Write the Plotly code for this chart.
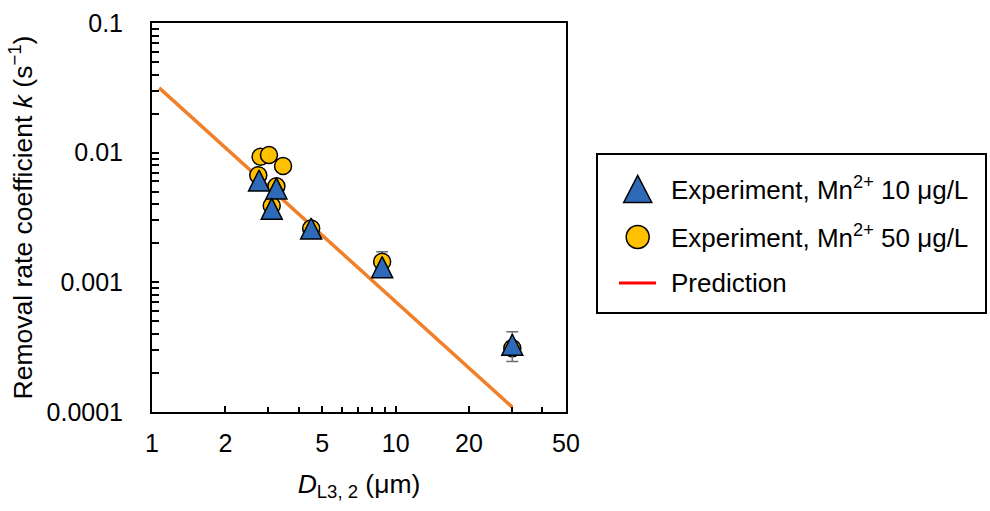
import plotly.graph_objects as go

# Measured removal rate coefficients k (1/s) versus droplet diameter D_L3,2 (um)
d_mn10 = [2.75, 3.24, 3.10, 4.5, 8.8, 30.1]
k_mn10 = [0.0061, 0.0053, 0.0037, 0.0026, 0.00131, 0.00033]
err_mn10 = [0, 0, 0, 0, 0, 0.000085]

d_mn50 = [2.79, 3.02, 3.45, 2.73, 3.24, 3.10, 4.5, 8.8, 30.1]
k_mn50 = [0.0093, 0.0096, 0.0079, 0.0067, 0.0055, 0.0039, 0.0026, 0.00144, 0.00031]
err_mn50 = [0, 0, 0, 0, 0, 0, 0, 0.00028, 0]

# Model prediction (straight line on log-log axes)
d_pred = [1.07, 30.1]
k_pred = [0.0316, 0.000109]

x_tickvals = [1, 2, 5, 10, 20, 50]
x_ticktext = ["1", "2", "5", "10", "20", "50"]
x_minor = [3, 4, 6, 7, 8, 9, 30, 40]

y_tickvals = [0.0001, 0.001, 0.01, 0.1]
y_ticktext = ["0.0001", "0.001", "0.01", "0.1"]
y_minor = [m * 10.0 ** e for e in (-4, -3, -2) for m in range(2, 10)]

legend_labels = [
    "Experiment, Mn<sup>2+</sup> 10 μg/L",
    "Experiment, Mn<sup>2+</sup> 50 μg/L",
    "Prediction",
]

W, H = 990, 511
FONT = "Arial, Liberation Sans, sans-serif"
BLUE = "#2F6AB8"
GOLD = "#FFC000"
ORANGE = "#F0802A"
RED = "#FF0000"
TRI = 21


def px(x):
    return x / W


def py(y):
    return 1 - y / H


fig = go.Figure()

fig.add_trace(go.Scatter(
    x=d_pred, y=k_pred, mode="lines", name=legend_labels[2],
    line=dict(color=ORANGE, width=3.5), hoverinfo="skip",
))

fig.add_trace(go.Scatter(
    x=d_mn50, y=k_mn50, mode="markers", name=legend_labels[1],
    marker=dict(symbol="circle", size=17, color=GOLD,
                line=dict(color="black", width=1.5)),
    error_y=dict(type="data", array=err_mn50, color="#6E6E6E",
                 thickness=1.5, width=6),
))

# upright triangle centred on the point: a flipped arrow pushed back by half its size
fig.add_trace(go.Scatter(
    x=d_mn10, y=k_mn10, mode="markers", name=legend_labels[0],
    marker=dict(symbol="arrow-down", angle=180, standoff=TRI / 2, size=TRI,
                color=BLUE, line=dict(color="black", width=1.5)),
    error_y=dict(type="data", array=err_mn10, color="#6E6E6E",
                 thickness=1.5, width=6),
))

axis_common = dict(
    type="log", showline=True, linecolor="black", linewidth=2, mirror=True,
    showgrid=False, zeroline=False, ticks="inside", tickcolor="black",
    tickwidth=2, tickfont=dict(family=FONT, size=25, color="black"),
    automargin=False,
)

fig.update_xaxes(
    **axis_common, domain=[px(152), px(566)], range=[0, 1.69897],
    tickmode="array", tickvals=x_tickvals, ticktext=x_ticktext, ticklen=6,
    ticklabelstandoff=8,
    minor=dict(ticks="inside", tickmode="array", tickvals=x_minor,
               ticklen=5, tickwidth=2, tickcolor="black", showgrid=False),
    title=dict(text="<i>D</i><sub>L3, 2</sub> (μm)", standoff=18,
               font=dict(family=FONT, size=26.5, color="black")),
)

fig.update_yaxes(
    **axis_common, domain=[py(412), py(23)], range=[-4, -1],
    tickmode="array", tickvals=y_tickvals, ticktext=y_ticktext, ticklen=7,
    ticklabelstandoff=22,
    minor=dict(ticks="inside", tickmode="array", tickvals=y_minor,
               ticklen=7, tickwidth=2, tickcolor="black", showgrid=False),
    title=dict(text="Removal rate coefficient <i>k</i> (s<sup>−1</sup>)",
               standoff=6, font=dict(family=FONT, size=26.5, color="black")),
)

# Legend panel drawn as a framed box with keys and labels
box = (597, 154, 986, 313)
key_x = 637.7
text_x = 669
rows = [189, 237, 283]

shapes = [
    dict(type="rect", xref="paper", yref="paper",
         x0=px(box[0]), x1=px(box[2]), y0=py(box[3]), y1=py(box[1]),
         line=dict(color="black", width=2), fillcolor="white", layer="below"),
    dict(type="path", xref="paper", yref="paper",
         path=(f"M{px(key_x - 14)},{py(rows[0] + 13.5)} "
               f"L{px(key_x + 14)},{py(rows[0] + 13.5)} "
               f"L{px(key_x)},{py(rows[0] - 13.5)} Z"),
         fillcolor=BLUE, line=dict(color="black", width=1.5)),
    dict(type="circle", xref="paper", yref="paper",
         x0=px(key_x - 11.5), x1=px(key_x + 11.5),
         y0=py(rows[1] + 11.5), y1=py(rows[1] - 11.5),
         fillcolor=GOLD, line=dict(color="black", width=1.5)),
    dict(type="line", xref="paper", yref="paper",
         x0=px(619), x1=px(656), y0=py(rows[2]), y1=py(rows[2]),
         line=dict(color=RED, width=3)),
]

annotations = [
    dict(text=label, xref="paper", yref="paper", x=px(text_x), y=py(row),
         xanchor="left", yanchor="middle", showarrow=False,
         font=dict(family=FONT, size=26, color="black"))
    for label, row in zip(legend_labels, rows)
]

fig.update_layout(
    width=W, height=H, autosize=False,
    margin=dict(l=0, r=0, t=0, b=0, autoexpand=False),
    paper_bgcolor="white", plot_bgcolor="white",
    font=dict(family=FONT, size=24, color="black"),
    showlegend=False,
    shapes=shapes,
    annotations=annotations,
)

fig.write_html("out.html")
